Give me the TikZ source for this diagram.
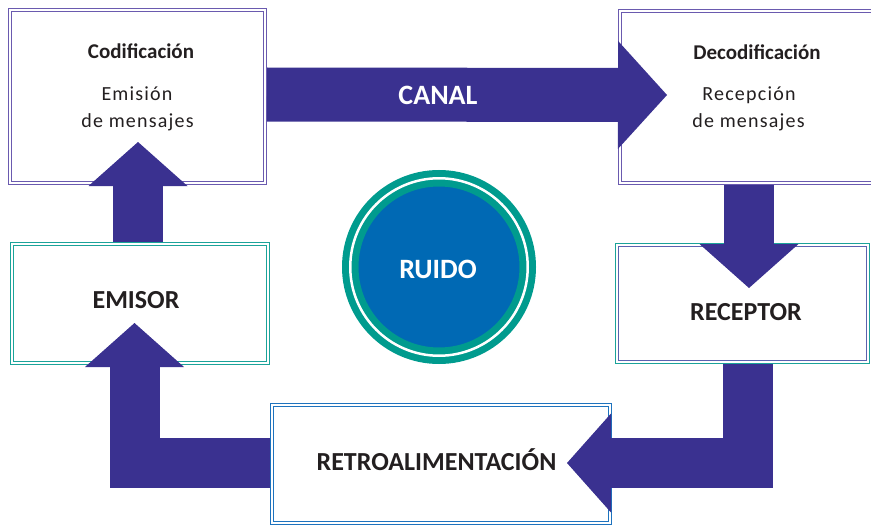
\documentclass[tikz,border=0pt]{standalone}
\usepackage{fontspec}
\setmainfont{Carlito}
\usetikzlibrary{arrows.meta,calc}

\definecolor{flechacol}{HTML}{3A3190}
\definecolor{lila}{HTML}{6A5AAF}
\definecolor{lilaazul}{HTML}{5B62B0}
\definecolor{verdeazul}{HTML}{1BA39A}
\definecolor{azulretro}{HTML}{1E73BE}
\definecolor{azulruido}{HTML}{0069B4}
\definecolor{verderuido}{HTML}{009B8E}
\definecolor{texto}{HTML}{231F20}

\tikzset{
  caja/.style={rectangle,draw=#1,double=white,double distance=1.8pt,line width=1.1pt,fill=white,inner sep=0pt,outer sep=0pt},
  flecha/.style={draw=flechacol,line width=50pt,-{Triangle[length=44pt 0 0,width=99pt 0 0,line width=0pt]}},
  titulo/.style={font=\fontsize{21}{25}\selectfont\bfseries,text=texto,anchor=base,inner sep=0pt},
  linea/.style={font=\fontsize{20}{24}\selectfont\addfontfeature{LetterSpace=6},text=texto,anchor=base,inner sep=0pt},
  grande/.style={font=\fontsize{26}{30}\selectfont\bfseries,text=texto,inner sep=0pt}
}

\begin{document}
\begin{tikzpicture}[x=1pt,y=-1pt]
  \useasboundingbox (0,0) rectangle (871,527);

  % cajas
  \node[caja=lila, minimum width=255pt, minimum height=173pt] (cod) at (137.5,96.5) {};
  \node[caja=lila, minimum width=270pt, minimum height=172pt] (dec) at (755,97) {};
  \node[caja=verdeazul, minimum width=256pt, minimum height=119pt] (emi) at (140,303.5) {};
  \node[caja=verdeazul, line width=1.3pt, minimum width=251pt, minimum height=117pt] (rec) at (742.5,303.5) {};
  \draw[lilaazul, line width=0.8pt] ([shift={(1.55,1.55)}]rec.north west) rectangle ([shift={(-1.55,-1.55)}]rec.south east);
  \node[caja=azulretro, minimum width=338pt, minimum height=118pt] (ret) at (441,464) {};

  % ruido
  \node[circle, fill=azulruido, draw=verderuido, line width=7pt, double=white, double distance=2.5pt,
        minimum size=177.5pt, inner sep=0pt] (ruido) at (439,267) {};

  % flechas
  \coordinate (colder) at (749,0);
  \draw[flecha, line width=54pt, -{Triangle[length=49pt 0 0,width=108pt 0 0,line width=0pt]}]
    ($(cod.east)+(2,-2)$) -- ($(dec.west)+(47,-2)$);
  \draw[flecha] ($(emi.north)+(-2,-2)$) -- ($(cod.south)+(0.5,-41)$);
  \draw[flecha] ($(dec.south -| colder)+(0,2)$) -- ($(rec.north -| colder)+(0,43)$);
  \draw[flecha] ($(rec.south -| colder)+(-1,2)$) |- ($(ret.east)+(-43,-1)$);
  \draw[flecha] ($(ret.west)+(-2,-1)$) -| ($(emi.south)+(-5.5,-40)$);

  % textos
  \node[titulo] (cod-tit) at (141,59) {Codificación};
  \node[linea] (cod-l1) at (137,101) {Emisión};
  \node[linea] (cod-l2) at (137.5,128) {de mensajes};
  \node[titulo] (dec-tit) at (757,60) {Decodificación};
  \node[linea] (dec-l1) at (749,101) {Recepción};
  \node[linea] (dec-l2) at (748.5,128) {de mensajes};
  \node[grande, font=\fontsize{28}{32}\selectfont\bfseries, text=white] (canal) at (438,95) {CANAL};
  \node[grande, font=\fontsize{28}{32}\selectfont\bfseries, text=white] (ruido-t) at (438,269) {RUIDO};
  \node[grande] (emisor) at (136,300) {EMISOR};
  \node[grande] (receptor) at (746,312) {RECEPTOR};
  \node[grande, anchor=base] (retro) at (436.5,470) {RETROALIMENTACIÓN};
\end{tikzpicture}
\end{document}
